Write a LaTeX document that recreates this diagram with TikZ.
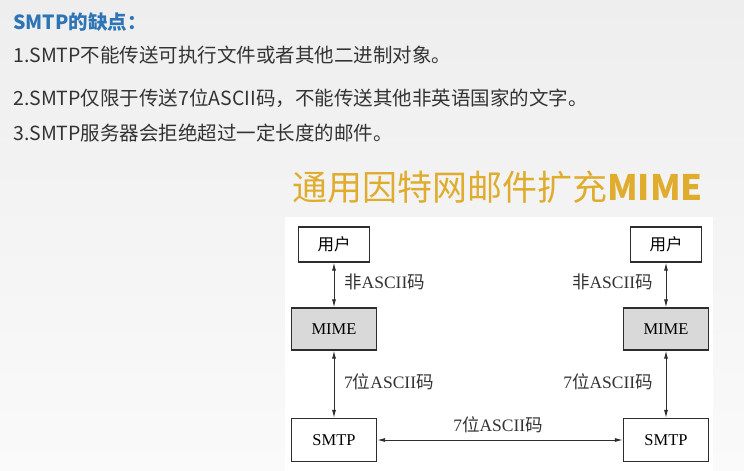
\documentclass[tikz,border=0pt]{standalone}
\usepackage{fontspec}
\setmainfont{Liberation Serif}
\newfontfamily\cjk{Noto Sans CJK SC}
\usepackage{xcolor}
\usetikzlibrary{positioning, arrows.meta}
\definecolor{titleblue}{RGB}{46,117,182}
\definecolor{bodygray}{RGB}{51,51,51}
\definecolor{mimegold}{RGB}{224,172,45}
\definecolor{linegray}{RGB}{45,45,45}

\begin{document}
\begin{tikzpicture}[x=1pt, y=-1pt, >={Latex[length=8pt, width=4pt]},
    box/.style={draw=linegray, line width=1.3pt, rectangle, inner sep=0pt,
                minimum width=85pt, minimum height=43pt, font=\fontsize{16.5}{18}\selectfont},
    userbox/.style={box, minimum width=71pt, minimum height=35pt},
    mimebox/.style={box, fill=gray!30, minimum height=42pt},
    lbl/.style={font=\fontsize{17.5}{19}\selectfont, text=bodygray, inner sep=1pt},
    bodytext/.style={anchor=west, inner sep=0pt, text=bodygray,
                     font=\cjk\fontsize{19.5}{21}\selectfont}]
    \useasboundingbox (0,0) rectangle (744,471);
    \shade[top color={rgb,255:red,238;green,238;blue,238},
           bottom color={rgb,255:red,250;green,250;blue,250}] (0,0) rectangle (744,471);
    \fill[white] (285,217) rectangle (713,471);

    % header text
    \node[bodytext, text=titleblue, font=\cjk\bfseries\fontsize{19.5}{21}\selectfont]
          (head)  at (13, 22)  {SMTP的缺点：};
    \node[bodytext] (pt1) at (13, 55)  {1.SMTP不能传送可执行文件或者其他二进制对象。};
    \node[bodytext] (pt2) at (13, 98)  {2.SMTP仅限于传送7位ASCII码，不能传送其他非英语国家的文字。};
    \node[bodytext] (pt3) at (13, 133) {3.SMTP服务器会拒绝超过一定长度的邮件。};
    \node[anchor=west, inner sep=0pt, text=mimegold, font=\cjk\fontsize{35}{38}\selectfont]
          (title) at (292, 187) {通用因特网邮件扩充\textbf{MIME}};

    % left side
    \node[userbox] (userL) at (334, 244.5) {\cjk 用户};
    \node[mimebox] (mimeL) at (334, 329)   {MIME};
    \node[box]     (smtpL) at (334, 440)   {SMTP};
    % right side
    \node[userbox] (userR) at (666, 244.5) {\cjk 用户};
    \node[mimebox] (mimeR) at (666, 329)   {MIME};
    \node[box]     (smtpR) at (666, 440)   {SMTP};

    \draw[<->, linegray, line width=0.9pt] (userL) -- (mimeL);
    \draw[<->, linegray, line width=0.9pt] (mimeL) -- (smtpL);
    \draw[<->, linegray, line width=0.9pt] (userR) -- (mimeR);
    \draw[<->, linegray, line width=0.9pt] (mimeR) -- (smtpR);
    \draw[<->, linegray, line width=0.9pt] (smtpL) -- (smtpR);

    \node[lbl, anchor=west] (nonL) at (343, 282) {{\cjk 非}ASCII{\cjk 码}};
    \node[lbl, anchor=west] (sevL) at (343, 382) {7{\cjk 位}ASCII{\cjk 码}};
    \node[lbl, anchor=east] (nonR) at (654, 282) {{\cjk 非}ASCII{\cjk 码}};
    \node[lbl, anchor=east] (sevR) at (654, 382) {7{\cjk 位}ASCII{\cjk 码}};
    \node[lbl] (sevM) at (498, 425) {7{\cjk 位}ASCII{\cjk 码}};
\end{tikzpicture}
\end{document}
